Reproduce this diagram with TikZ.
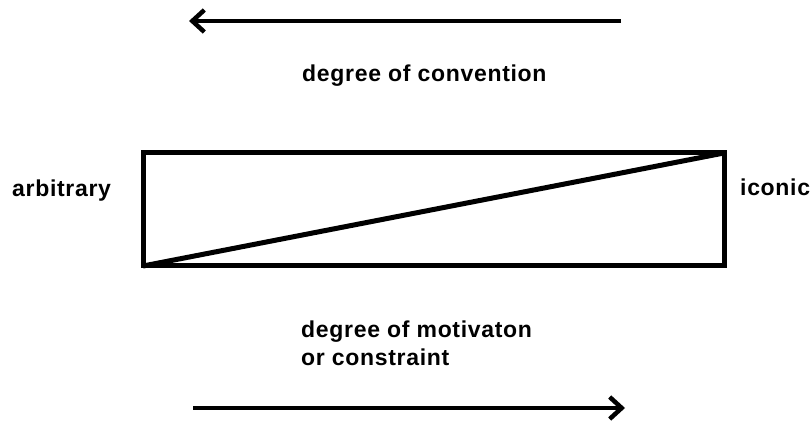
\documentclass[tikz,border=0pt]{standalone}
\usepackage{fontspec}
\setmainfont{Liberation Sans}[LetterSpace=3]
\usetikzlibrary{arrows.meta}
\begin{document}
\begin{tikzpicture}[x=1pt,y=-1pt,
  lbl/.style={inner sep=0pt,font=\bfseries\fontsize{23}{28}\selectfont},
  boxline/.style={line width=5pt},
  axis/.style={line width=4.5pt,-{Straight Barb[length=12pt,width=22pt,line width=4.5pt]}}]
\useasboundingbox[fill=white] (0,0) rectangle (812,422);
% box
\coordinate (bl) at (143,266);
\coordinate (tr) at (724,153);
\draw[boxline] (bl) rectangle (tr);
\draw[boxline] (bl) -- (tr);
% labels
\node[lbl,anchor=base west] (conv) at (302,82) {degree of convention};
\node[lbl,anchor=base west] (arb) at (12,197) {arbitrary};
\node[lbl,anchor=base west] (ico) at (740,196) {iconic};
\node[lbl,anchor=north west,align=left] (mot) at (301,321) {degree of motivaton\\or constraint};
% arrows
\coordinate (c1) at (621,21);
\coordinate (c2) at (189,21);
\coordinate (m1) at (193,408);
\coordinate (m2) at (625,408);
\draw[axis] (c1) -- (c2);
\draw[axis] (m1) -- (m2);
\end{tikzpicture}
\end{document}
